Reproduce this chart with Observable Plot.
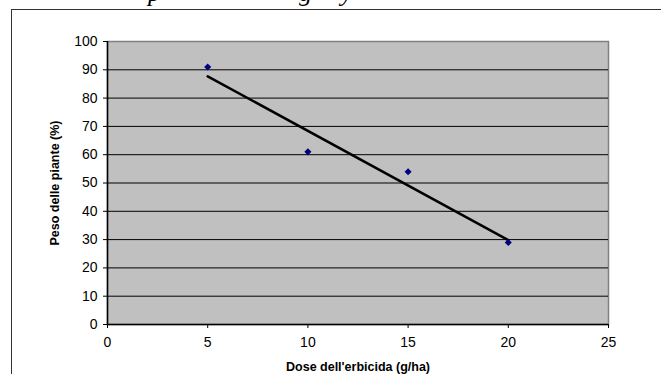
<!DOCTYPE html>
<html>
<head>
<meta charset="utf-8">
<script src="https://cdn.jsdelivr.net/npm/d3@7"></script>
<script src="https://cdn.jsdelivr.net/npm/@observablehq/plot@0.6"></script>
<style>
  html, body { margin: 0; padding: 0; background: #fff; overflow: hidden; width: 661px; height: 374px; }
  #wrap { position: relative; width: 661px; height: 374px; overflow: hidden; }
  #border { position: absolute; left: 11px; top: 9px; width: 700px; height: 420px; border: 1.5px solid #333; box-sizing: border-box; }
  #caption { position: absolute; left: 0; top: 0; }
  #chart { position: absolute; left: 0; top: 0; }
  #chart g[aria-label="x-axis label"] text, #chart g[aria-label="y-axis label"] text,
  #chart g[aria-label="x-axis label"], #chart g[aria-label="y-axis label"] { font-weight: bold; font-size: 12.5px; }
</style>
</head>
<body>
<div id="wrap">
  <div id="border"></div>
  <svg id="caption" width="661" height="12">
    <g font-family="Liberation Serif, Times New Roman, serif" font-style="italic" font-size="26" fill="#000">
      <text x="148" y="1">p</text>
      <text x="299" y="1">g</text>
      <text x="341" y="1">y</text>
    </g>
  </svg>
  <div id="chart"></div>
</div>
<script>
const doses = [5, 10, 15, 20];
const weights = [91, 61, 54, 29];
const xTicks = [0, 5, 10, 15, 20, 25];
const yTicks = [0, 10, 20, 30, 40, 50, 60, 70, 80, 90, 100];
const xTitle = "Dose dell'erbicida (g/ha)";
const yTitle = "Peso delle piante (%)";

const data = doses.map((d, i) => ({ dose: d, weight: weights[i] }));

const chart = Plot.plot({
  width: 661,
  height: 374,
  marginLeft: 107,
  marginRight: 53,
  marginTop: 41,
  marginBottom: 50,
  style: { fontFamily: "'Liberation Sans', Arial, sans-serif", fontSize: "14px", color: "black", background: "transparent", overflow: "visible" },
  x: { domain: [0, 25] },
  y: { domain: [0, 100] },
  marks: [
    Plot.frame({ fill: "#c0c0c0", stroke: "#808080", strokeWidth: 1.5 }),
    Plot.ruleY(yTicks.filter(d => d > 0 && d < 100), { stroke: "black", strokeWidth: 1 }),
    Plot.axisX({ ticks: xTicks, tickSize: 4, tickPadding: 9, fontSize: 14, stroke: "black", strokeOpacity: 1,
      label: xTitle, labelAnchor: "center", labelArrow: "none", labelOffset: 46 }),
    Plot.axisY({ ticks: yTicks, tickSize: 4, tickPadding: 6, fontSize: 14, stroke: "black", strokeOpacity: 1,
      label: yTitle, labelAnchor: "center", labelArrow: "none", labelOffset: 57 }),
    Plot.ruleX([0], { stroke: "black", strokeWidth: 1.5 }),
    Plot.ruleY([0], { stroke: "black", strokeWidth: 1.5 }),
    Plot.linearRegressionY(data, { x: "dose", y: "weight", ci: 0, stroke: "black", strokeWidth: 2.5 }),
    Plot.dot(data, { x: "dose", y: "weight", symbol: "diamond2", r: 3.2, fill: "#000080", stroke: "none" })
  ]
});
document.getElementById("chart").appendChild(chart);
</script>
</body>
</html>
